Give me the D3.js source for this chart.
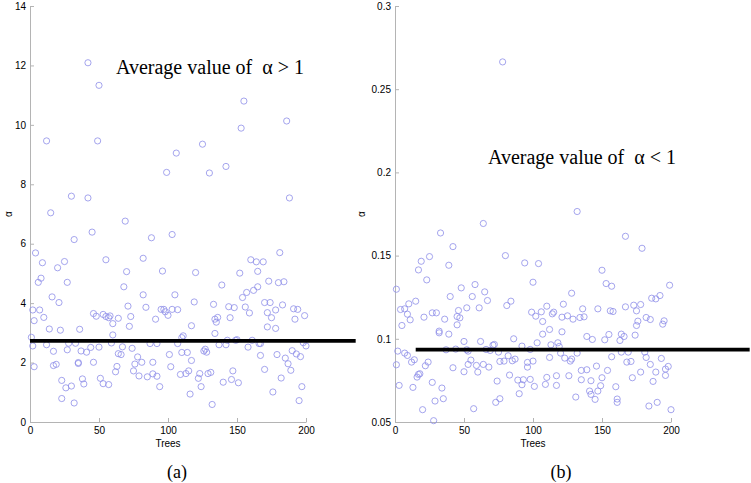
<!DOCTYPE html>
<html>
<head>
<meta charset="utf-8">
<script src="https://cdn.jsdelivr.net/npm/d3@7"></script>
<style>
  body { margin: 0; background: #fff; }
  svg { display: block; }
  .tick text { font-family: "Liberation Sans", Arial, sans-serif; font-size: 10px; fill: #000; }
</style>
</head>
<body>
<svg></svg>
<script>
// ---- data ----
// panel (a): [tree, alpha]
const pointsA = [
  [42,12.09],[50,11.33],[12,9.46],[49,9.46],[30,7.6],[42,7.54],[15,7.04],[69,6.76],
  [99,8.4],[106,9.05],[125,9.35],[130,8.38],[142,8.6],[153,9.89],[155,10.8],[186,10.13],[188,7.54],
  [4,5.69],[45,6.39],[32,6.14],[88,6.2],[103,6.31],[9,5.36],[25,5.4],[20,5.19],[55,5.46],
  [82,5.51],[70,5.06],[96,5.08],[120,5.03],[68,4.55],[8,4.84],[6,4.7],[27,4.7],[16,4.21],
  [21,4.02],[82,4.28],[105,4.28],[139,4.61],[160,5.46],[164,5.39],[169,5.39],[181,5.7],
  [165,5.07],[152,5.01],[173,4.74],[180,4.69],[184,4.72],[165,4.55],[162,4.43],[157,4.36],
  [154,4.19],[2,3.77],[7,3.77],[3,3.41],[10,3.52],[14,3.13],[22,3.09],[36,3.12],[46,3.65],
  [48,3.56],[53,3.62],[55,3.55],[58,3.57],[57,3.51],[60,3.31],[64,3.49],[71,3.9],[73,3.55],
  [72,3.22],[60,2.93],[84,3.86],[91,3.46],[95,3.79],[97,3.79],[98,3.71],[100,3.59],[103,3.79],
  [107,3.78],[119,4.04],[117,3.24],[111,2.9],[110,2.84],[133,3.96],[135,3.36],[136,3.52],
  [134,3.46],[134,2.98],[144,3.88],[148,3.85],[145,3.51],[156,3.87],[159,3.67],[170,4.02],
  [174,4.02],[172,3.68],[175,3.51],[172,3.2],[178,3.77],[178,3.15],[183,3.94],[191,3.81],
  [194,3.79],[192,3.46],[199,3.58],[1,2.85],[2,2.56],[12,2.6],[17,2.38],[28,2.65],[27,2.43],
  [33,2.65],[37,2.39],[41,2.35],[44,2.51],[50,2.52],[59,2.66],[67,2.53],[64,2.3],[66,2.27],
  [74,2.48],[87,2.64],[92,2.64],[101,2.27],[107,2.64],[110,2.34],[114,2.34],[117,2.07],
  [126,2.39],[127,2.45],[128,2.35],[137,2.6],[142,2.6],[150,2.77],[149,2.75],[143,2.75],
  [158,2.52],[161,2.75],[166,2.64],[167,2.64],[167,2.24],[179,2.27],[185,2.15],[187,1.96],
  [190,2.4],[193,2.29],[196,2.2],[198,2.67],[200,2.56],[3,1.86],[17,1.9],[19,1.94],[35,1.97],
  [35,2.0],[46,2.01],[23,1.4],[26,1.15],[23,0.79],[30,1.21],[32,0.64],[39,1.28],[38,1.45],
  [51,1.47],[53,1.29],[57,1.26],[62,1.69],[63,1.87],[75,1.72],[76,1.95],[78,2.19],[79,1.55],
  [81,2.01],[85,1.52],[89,1.62],[89,2.01],[92,1.54],[94,1.19],[102,1.86],[109,1.6],[113,1.63],
  [116,0.94],[115,1.72],[122,1.47],[123,1.63],[124,1.19],[129,1.63],[131,1.67],[132,0.59],
  [140,1.34],[146,1.43],[147,1.72],[151,1.32],[170,1.77],[176,1.01],[182,1.48],[189,1.74],
  [195,0.72],[197,1.19]
];

// panel (b): [tree, alpha]
const pointsB = [
  [132,0.1765],[78,0.2664],[64,0.1693],[33,0.1636],[167,0.1616],[42,0.1554],[179,0.1544],
  [80,0.15],[19,0.1466],[25,0.1494],[17,0.1414],[39,0.1442],[94,0.1456],[104,0.1452],
  [150,0.1412],[23,0.1354],[100,0.134],[1,0.1298],[48,0.1306],[58,0.1326],[65,0.1282],
  [153,0.1332],[157,0.1316],[199,0.1322],[128,0.1274],[40,0.1254],[56,0.1254],[67,0.123],
  [84,0.1226],[15,0.1226],[10,0.121],[81,0.12],[110,0.1196],[122,0.1208],[61,0.1186],
  [52,0.1186],[46,0.117],[4,0.1176],[7,0.118],[9,0.1148],[11,0.1114],[5,0.108],[21,0.113],
  [27,0.1156],[30,0.1156],[36,0.1118],[45,0.1134],[47,0.1126],[45,0.1084],[99,0.116],
  [102,0.1136],[106,0.1162],[107,0.1104],[114,0.115],[115,0.116],[121,0.113],[125,0.1138],
  [129,0.1118],[134,0.1128],[137,0.1132],[136,0.118],[147,0.118],[156,0.1168],[158,0.1164],
  [167,0.1192],[173,0.1202],[178,0.1206],[175,0.1168],[186,0.1244],[189,0.124],[192,0.126],
  [182,0.1128],[185,0.1116],[176,0.1106],[175,0.108],[194,0.1088],[195,0.1108],[107,0.1028],
  [112,0.1056],[121,0.1042],[32,0.1046],[32,0.1036],[39,0.1028],[86,0.1],[139,0.1014],
  [143,0.0996],[152,0.0994],[155,0.1026],[163,0.099],[164,0.1028],[166,0.1014],[174,0.1022],
  [50,0.0984],[62,0.0984],[71,0.0962],[72,0.0966],[92,0.0956],[103,0.0976],[113,0.0964],
  [118,0.0976],[119,0.0954],[2,0.0926],[37,0.0934],[44,0.0938],[52,0.0934],[53,0.0926],
  [66,0.0936],[69,0.093],[75,0.092],[98,0.0936],[120,0.0914],[132,0.0914],[164,0.092],
  [169,0.092],[181,0.092],[7,0.0914],[9,0.09],[14,0.0874],[12,0.086],[24,0.086],[22,0.0838],
  [1,0.0844],[17,0.0786],[16,0.077],[18,0.079],[27,0.0738],[34,0.0704],[3,0.072],[13,0.0708],
  [35,0.064],[29,0.0626],[20,0.0574],[28,0.0508],[55,0.0872],[53,0.0846],[59,0.084],[60,0.08],
  [64,0.0846],[68,0.083],[50,0.0802],[42,0.0826],[57,0.058],[74,0.0746],[73,0.0618],[76,0.064],
  [76,0.0864],[79,0.0866],[82,0.0898],[85,0.0868],[87,0.0878],[83,0.0782],[89,0.0752],
  [92,0.0724],[93,0.0754],[90,0.067],[98,0.0756],[96,0.083],[96,0.0858],[100,0.0866],
  [101,0.0714],[109,0.0726],[110,0.0768],[112,0.0888],[117,0.0778],[117,0.072],[123,0.0884],
  [127,0.0866],[128,0.0878],[126,0.0778],[131,0.065],[135,0.0754],[135,0.081],[139,0.0814],
  [142,0.0748],[141,0.0686],[142,0.0666],[145,0.0636],[147,0.0686],[146,0.0836],[149,0.0718],
  [150,0.0766],[154,0.081],[157,0.0892],[160,0.0712],[161,0.0638],[161,0.0618],[168,0.086],
  [171,0.0864],[172,0.0766],[178,0.08],[182,0.0888],[185,0.0846],[184,0.0596],[187,0.0744],
  [189,0.08],[190,0.0618],[193,0.0882],[196,0.078],[196,0.0818],[198,0.0834],[200,0.0574]
];

// average lines: value and the tree range they cover
const avgA = 2.73, avgSpanA = [0, 236];
const avgB = 0.0935, avgSpanB = [15, 257];

// tick labels
const xTicks = [0, 50, 100, 150, 200];
const yTicksA = [0, 2, 4, 6, 8, 10, 12, 14];
const yTicksB = [0.05, 0.1, 0.15, 0.2, 0.25, 0.3];

// ---- layout ----
const width = 751;
const height = 483;
const svg = d3.select("svg").attr("width", width).attr("height", height);

const axisGrey = "#b4b4b4";
const markColor = "#8e8ee8";

function drawPanel(p) {
  const xScale = d3.scaleLinear().domain([0, 200]).range([p.left, p.left + 276]);
  const yScale = d3.scaleLinear().domain(p.yDomain).range([422, 6]);

  const xAxis = d3.axisBottom(xScale)
                  .tickValues(xTicks)
                  .tickSize(-4)
                  .tickSizeOuter(0)
                  .tickPadding(5);

  const yAxis = d3.axisLeft(yScale)
                  .tickValues(p.yTicks)
                  .tickFormat(d => String(d))
                  .tickSize(-4)
                  .tickSizeOuter(0)
                  .tickPadding(4);

  const gx = svg.append("g")
      .attr("transform", `translate(0,422)`)
      .call(xAxis);

  const gy = svg.append("g")
      .attr("transform", `translate(${p.left},0)`)
      .call(yAxis);

  [gx, gy].forEach(g => {
    g.select(".domain").attr("stroke", axisGrey);
    g.selectAll(".tick line").attr("stroke", axisGrey);
  });

  // scatter points
  svg.append("g")
    .selectAll("circle")
    .data(p.points)
    .enter()
    .append("circle")
      .attr("cx", d => xScale(d[0]))
      .attr("cy", d => yScale(d[1]))
      .attr("r", 3.1)
      .attr("fill", "none")
      .attr("stroke", markColor)
      .attr("stroke-width", 0.8);

  // average line
  svg.append("line")
      .attr("x1", xScale(p.span[0]))
      .attr("x2", xScale(p.span[1]))
      .attr("y1", yScale(p.avg))
      .attr("y2", yScale(p.avg))
      .attr("stroke", "#000")
      .attr("stroke-width", 3.6);

  // annotation
  svg.append("text")
      .text(p.note)
      .attr("x", p.noteX)
      .attr("y", p.noteY)
      .style("font-family", "'Liberation Serif', 'Times New Roman', serif")
      .style("font-size", "20px")
      .style("white-space", "pre");

  // x label
  svg.append("text")
      .text("Trees")
      .attr("x", xScale(100))
      .attr("y", 447)
      .style("text-anchor", "middle")
      .style("font-family", "'Liberation Sans', Arial, sans-serif")
      .style("font-size", "10px");

  // y label
  svg.append("text")
      .text("α")
      .attr("transform", `translate(${p.yLabelX},214) rotate(-90)`)
      .style("text-anchor", "middle")
      .style("font-family", "'Liberation Sans', Arial, sans-serif")
      .style("font-size", "10px");

  // panel caption
  svg.append("text")
      .text(p.caption)
      .attr("x", p.captionX)
      .attr("y", 478)
      .style("text-anchor", "middle")
      .style("font-family", "'Liberation Serif', 'Times New Roman', serif")
      .style("font-size", "18px");
}

drawPanel({
  left: 30, yDomain: [0, 14], yTicks: yTicksA, points: pointsA,
  avg: avgA, span: avgSpanA,
  note: "Average value of  α > 1", noteX: 116, noteY: 74,
  yLabelX: 12, caption: "(a)", captionX: 177
});

drawPanel({
  left: 395, yDomain: [0.05, 0.3], yTicks: yTicksB, points: pointsB,
  avg: avgB, span: avgSpanB,
  note: "Average value of  α < 1", noteX: 488, noteY: 164,
  yLabelX: 365, caption: "(b)", captionX: 561
});
</script>
</body>
</html>
